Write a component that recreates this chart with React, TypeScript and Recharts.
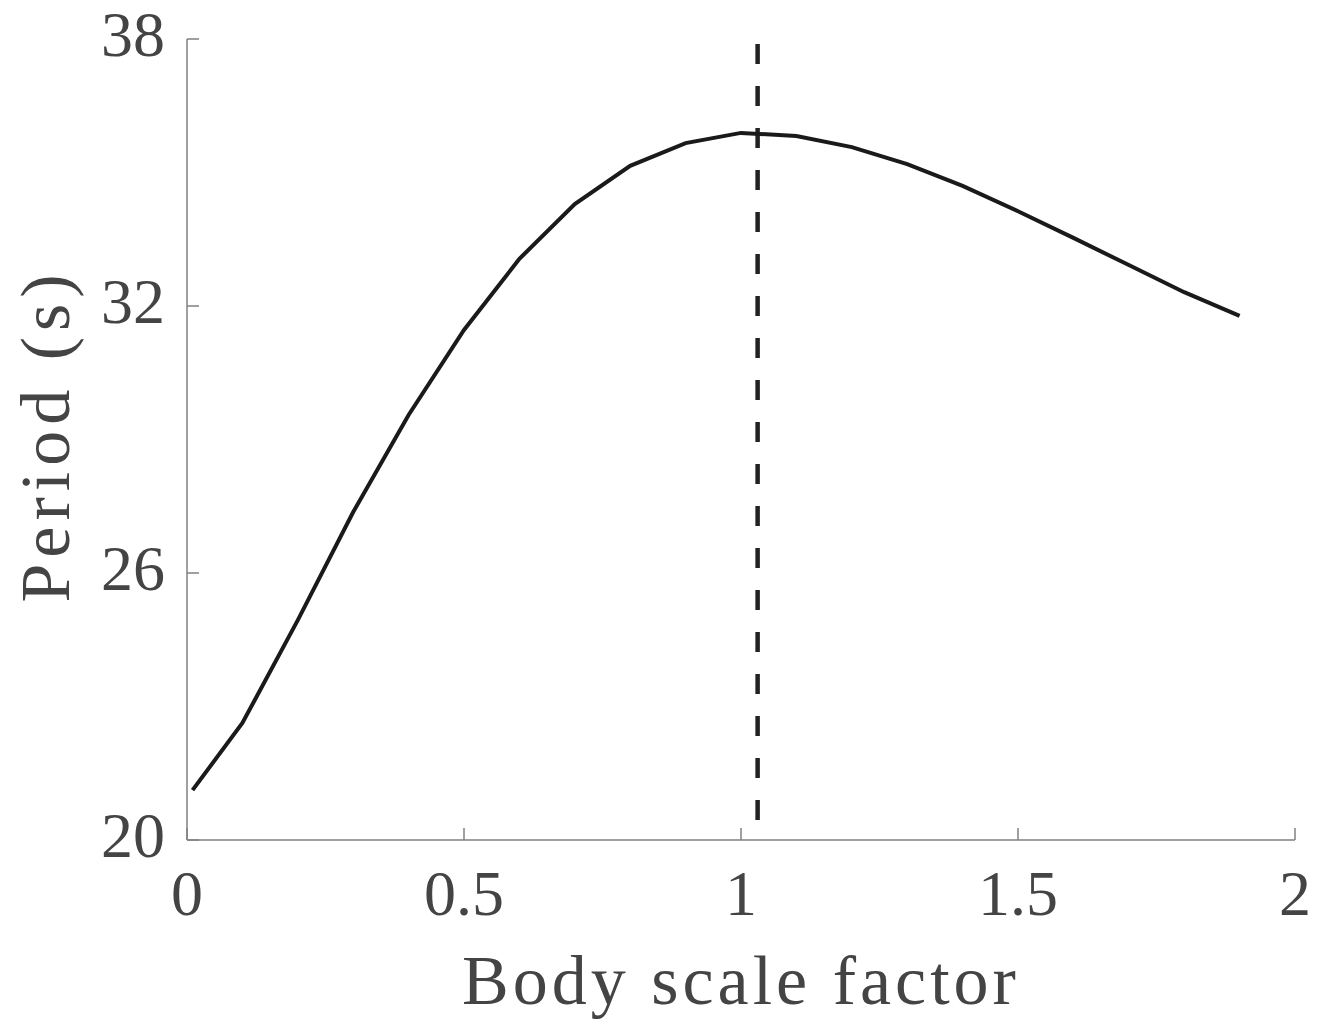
import { LineChart, Line, XAxis, YAxis, ReferenceLine, Label } from "recharts";

const scaleFactor = [0.01, 0.1, 0.2, 0.3, 0.4, 0.5, 0.6, 0.7, 0.8, 0.9, 1.0, 1.1, 1.2, 1.3, 1.4, 1.5, 1.6, 1.7, 1.8, 1.9];
const period = [21.12, 22.63, 24.94, 27.37, 29.55, 31.46, 33.06, 34.29, 35.15, 35.66, 35.89, 35.82, 35.57, 35.19, 34.7, 34.13, 33.53, 32.92, 32.31, 31.78];
const xTicks = [0, 0.5, 1, 1.5, 2];
const yTicks = [20, 26, 32, 38];
const optimum = 1.03;

const data = scaleFactor.map((x, i) => ({ x, y: period[i] }));

const FONT = "'Liberation Serif', 'DejaVu Serif', serif";
const TEXT = "#444444";
const AXIS = "#808080";

function XTick(props: any) {
    const { x, y, payload } = props;
    const axisY = y - 30;
    return (
        <g>
            <line x1={x} x2={x} y1={axisY} y2={axisY - 12} stroke={AXIS} strokeWidth={1.5} />
            <text x={x} y={y} dy={45} textAnchor="middle" fill={TEXT} fontSize={64} fontFamily={FONT}>
                {payload.value}
            </text>
        </g>
    );
}

function YTick(props: any) {
    const { x, y, payload } = props;
    const axisX = x + 22;
    return (
        <g>
            <line x1={axisX} x2={axisX + 12} y1={y} y2={y} stroke={AXIS} strokeWidth={1.5} />
            <text x={x} y={y} dy={17} textAnchor="end" fill={TEXT} fontSize={64} fontFamily={FONT}>
                {payload.value}
            </text>
        </g>
    );
}

export default function App() {
    return (
        <div style={{ position: "absolute", left: 0, top: 0, background: "#fff" }}>
            <LineChart width={1329} height={1020} data={data} margin={{ top: 39, right: 34, left: 0, bottom: 0 }}>
                <XAxis
                    dataKey="x"
                    type="number"
                    domain={[0, 2]}
                    ticks={xTicks}
                    height={180}
                    tickSize={0}
                    tickMargin={30}
                    tick={<XTick />}
                    stroke={AXIS}
                    strokeWidth={1.5}
                    interval={0}
                >
                    <Label
                        value="Body scale factor"
                        position="insideBottom"
                        offset={16}
                        fill={TEXT}
                        fontSize={70}
                        fontFamily={FONT}
                        letterSpacing={4}
                    />
                </XAxis>
                <YAxis
                    type="number"
                    domain={[20, 38]}
                    ticks={yTicks}
                    width={187}
                    tickSize={0}
                    tickMargin={22}
                    tick={<YTick />}
                    stroke={AXIS}
                    strokeWidth={1.5}
                    interval={0}
                >
                    <Label
                        value="Period (s)"
                        angle={-90}
                        position="insideLeft"
                        offset={0}
                        dx={44}
                        dy={-4}
                        fill={TEXT}
                        fontSize={70}
                        fontFamily={FONT}
                        letterSpacing={6}
                        style={{ textAnchor: "middle" }}
                    />
                </YAxis>
                <ReferenceLine
                    segment={[{ x: optimum, y: 37.89 }, { x: optimum, y: 20 }]}
                    stroke="#222222"
                    strokeWidth={4.5}
                    strokeDasharray="20 22"
                />
                <Line
                    type="linear"
                    dataKey="y"
                    stroke="#1a1a1a"
                    strokeWidth={4}
                    dot={false}
                    isAnimationActive={false}
                />
            </LineChart>
        </div>
    );
}
